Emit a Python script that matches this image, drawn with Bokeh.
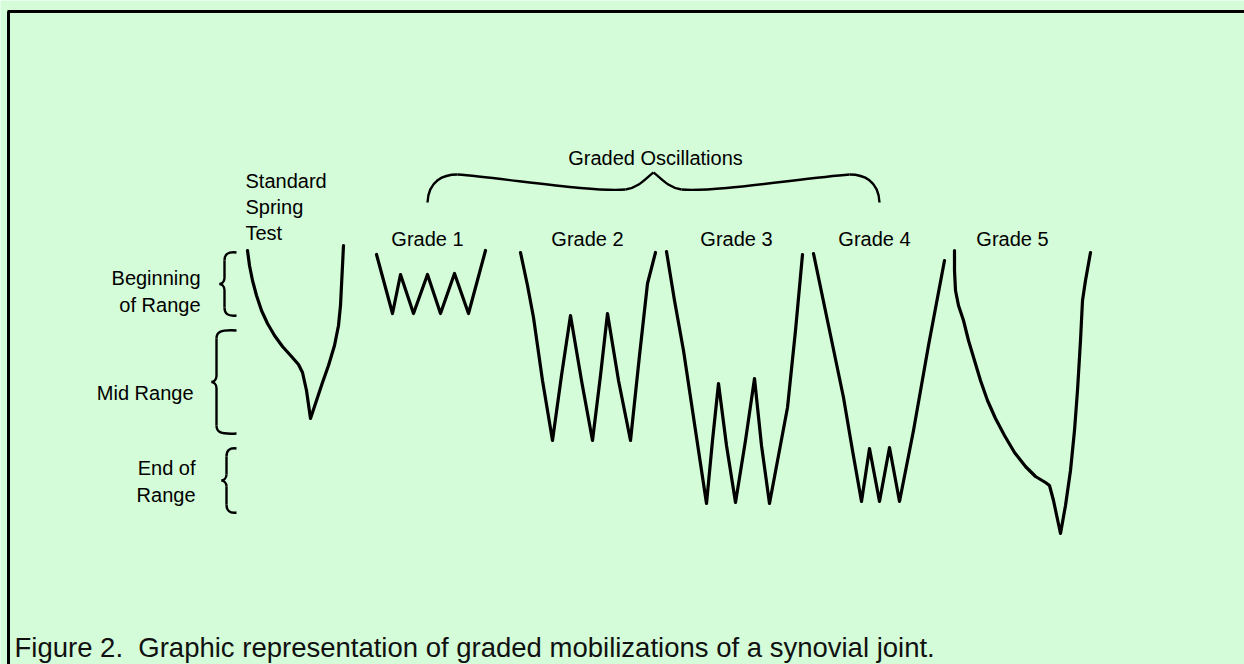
import numpy as np
from bokeh.plotting import figure
from bokeh.models import Range1d
from bokeh.core.properties import value
from bokeh.embed import file_html
from bokeh.resources import INLINE

# ---------------- data (picture-pixel units, y grows downward) ----------------
spring_x = [247, 249, 252, 256, 261, 267, 274, 282, 291, 298, 302, 306, 310,
            316, 322, 328, 334, 338, 340, 341, 342, 343]
spring_y = [250, 265, 280, 295, 310, 323, 335, 346, 356, 364, 372, 390, 418,
            400, 382, 365, 345, 325, 305, 285, 265, 245]

g1_x = [376, 392, 400, 413, 427, 440, 454, 468, 485]
g1_y = [254, 313, 274, 313, 274, 313, 273, 313, 250]

g2_x = [520, 527, 533, 542, 552, 561, 570, 581, 592, 600, 607, 618, 630, 639, 647, 655]
g2_y = [252, 285, 317, 380, 440, 375, 315, 380, 440, 375, 313, 380, 440, 355, 283, 252]

g3_x = [666, 674, 683, 695, 706, 712, 718, 726, 735, 745, 754, 761, 769, 778, 787, 795, 802]
g3_y = [251, 300, 350, 430, 503, 440, 383, 445, 502, 440, 378, 445, 503, 455, 407, 330, 254]

g4_x = [813, 828, 843, 852, 861, 869, 879, 889, 899, 913, 928, 944]
g4_y = [253, 325, 397, 450, 501, 448, 501, 447, 501, 430, 345, 260]

g5_x = [954, 954, 955, 958, 963, 968, 974, 980, 987, 995, 1004, 1014, 1025,
        1035, 1045, 1049, 1053, 1060, 1065, 1070, 1074, 1077, 1080, 1082, 1085, 1090]
g5_y = [250, 270, 290, 305, 320, 340, 360, 380, 400, 418, 435, 452, 466,
        476, 482, 485, 500, 533, 505, 470, 430, 390, 340, 300, 280, 252]

curves_x = [spring_x, g1_x, g2_x, g3_x, g4_x, g5_x]
curves_y = [spring_y, g1_y, g2_y, g3_y, g4_y, g5_y]

# range bands (left braces)
band_top = [252, 330, 448]
band_bot = [315, 433, 512]
band_tip = [219, 211, 221]
band_right = 236

# left labels
left_labels = ["Beginning", "of Range", "Mid Range", "End of", "Range"]
left_x = [200, 200, 193, 195, 195]
left_y = [277, 304, 392, 467, 494]

# column headings
head_labels = ["Standard", "Spring", "Test"]
head_x = [245, 245, 245]
head_y = [180, 206, 232]

grade_labels = ["Grade 1", "Grade 2", "Grade 3", "Grade 4", "Grade 5"]
grade_x = [427, 587, 736, 874, 1012]
grade_y = [238, 238, 238, 238, 238]

title_label = "Graded Oscillations"
title_x, title_y = 655, 157
brace_left, brace_right, brace_top, brace_bot, brace_mid = 427, 879, 174, 202, 190

caption = "Figure 2.\u00a0 Graphic representation of graded mobilizations of a synovial joint."
caption_x, caption_y = 14, 647

W, H = 1244, 664

p = figure(width=W, height=H, output_backend="svg", toolbar_location=None,
           x_range=Range1d(0, W), y_range=Range1d(H, 0),
           min_border=0)
p.axis.visible = False
p.grid.visible = False
p.outline_line_color = None
p.background_fill_color = "#d4fcd8"
p.border_fill_color = "#d4fcd8"

# ---------------- background gradient ----------------
gw, gh = W // 2, H // 2
xx, yy = np.meshgrid(np.linspace(0, W, gw), np.linspace(0, H, gh))
r = np.sqrt(((xx - 640) / 1.0) ** 2 + ((yy - 520) / 0.9) ** 2) / 760.0
r = np.clip(r, 0, 1)
c0 = np.array([228, 247, 241], dtype=float)
c1 = np.array([203, 254, 205], dtype=float)
img = np.empty((gh, gw), dtype=np.uint32)
view = img.view(dtype=np.uint8).reshape((gh, gw, 4))
for k in range(3):
    view[:, :, k] = (c0[k] + (c1[k] - c0[k]) * r ** 1.1).astype(np.uint8)
view[:, :, 3] = 255
p.image_rgba(image=[img[::-1]], x=0, y=H, dw=W, dh=H)

# ---------------- border (top and left) ----------------
p.line([8, 8], [H, 11], line_color="black", line_width=3)
p.line([7, W], [11, 11], line_color="black", line_width=3)

# ---------------- curves ----------------
p.multi_line(xs=curves_x, ys=curves_y, line_color="black", line_width=3.2,
             line_join="round", line_cap="round")

# ---------------- braces ----------------
bx0, by0, bx1, by1, bcx0, bcy0, bcx1, bcy1 = [], [], [], [], [], [], [], []


def seg(a, b, c, d):
    bx0.append(a[0]); by0.append(a[1]); bx1.append(d[0]); by1.append(d[1])
    bcx0.append(b[0]); bcy0.append(b[1]); bcx1.append(c[0]); bcy1.append(c[1])


for t, b, tip in zip(band_top, band_bot, band_tip):
    sp = tip + 5
    m = (t + b) / 2
    seg((band_right, t), (sp + 3, t - 1), (sp, t + 2), (sp, t + 8))
    seg((sp, t + 8), (sp, t + 14), (sp, m - 12), (sp, m - 6))
    seg((sp, m - 6), (sp, m - 2), (tip + 2, m), (tip, m))
    seg((tip, m), (tip + 2, m), (sp, m + 2), (sp, m + 6))
    seg((sp, m + 6), (sp, m + 12), (sp, b - 14), (sp, b - 8))
    seg((sp, b - 8), (sp, b - 2), (sp + 3, b + 1), (band_right, b))

cx = title_x - 2
L, R = brace_left, brace_right
seg((L, brace_bot), (L + 1, 180), (L + 16, brace_top), (L + 30, brace_top))
seg((L + 30, brace_top), (L + 80, brace_top + 4), (cx - 60, brace_mid + 2), (cx - 28, brace_mid - 1))
seg((cx - 28, brace_mid - 1), (cx - 14, brace_mid - 3), (cx - 6, brace_top + 2), (cx, brace_top - 2))
seg((cx, brace_top - 2), (cx + 6, brace_top + 2), (cx + 14, brace_mid - 3), (cx + 28, brace_mid - 1))
seg((cx + 28, brace_mid - 1), (cx + 60, brace_mid + 2), (R - 80, brace_top + 4), (R - 30, brace_top))
seg((R - 30, brace_top), (R - 16, brace_top), (R - 1, 180), (R, brace_bot))

p.bezier(x0=bx0, y0=by0, x1=bx1, y1=by1, cx0=bcx0, cy0=bcy0, cx1=bcx1, cy1=bcy1,
         line_color="black", line_width=2.4)

# ---------------- texts ----------------
FONT = value("Liberation Sans")
p.text(x=left_x, y=left_y, text=left_labels, text_font=FONT, text_font_size="20px",
       text_align="right", text_baseline="alphabetic", text_color="black")
p.text(x=head_x, y=head_y, text=head_labels, text_font=FONT, text_font_size="20px",
       text_align="left", text_baseline="alphabetic", text_color="black")
p.text(x=grade_x, y=grade_y, text=grade_labels, text_font=FONT, text_font_size="20px",
       text_align="center", text_baseline="alphabetic", text_color="black")
p.text(x=[title_x], y=[title_y], text=[title_label], text_font=FONT, text_font_size="20px",
       text_align="center", text_baseline="alphabetic", text_color="black")
p.text(x=[caption_x], y=[caption_y], text=[caption], text_font=FONT, text_font_size="27.5px",
       text_align="left", text_baseline="alphabetic", text_color="#111111")

open("out.html", "w").write(file_html(p, INLINE))
